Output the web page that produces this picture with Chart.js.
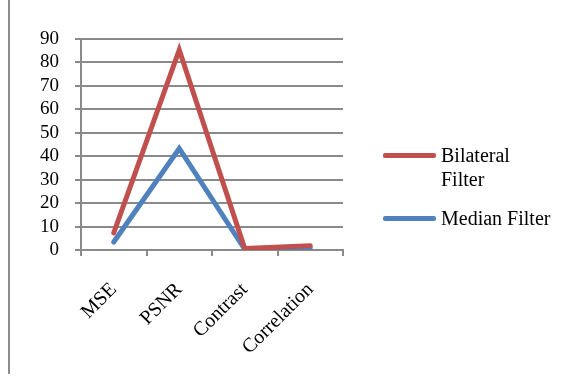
<!DOCTYPE html>
<html>
<head>
<meta charset="utf-8">
<script src="https://cdn.jsdelivr.net/npm/chart.js@4"></script>
<style>
  html, body { margin: 0; padding: 0; background: #fff; }
  #wrap { position: relative; width: 579px; height: 386px; }
  #frame { position: absolute; left: 8px; top: 0; width: 2px; height: 374px; background: #8c8c8c; }
  #legend { position: absolute; left: 383px; top: 143px; font-family: "Liberation Serif", serif; font-size: 20px; color: #000; }
  .item { display: flex; align-items: flex-start; margin-bottom: 15px; }
  .swatch { width: 53px; height: 5px; margin-top: 10px; margin-right: 5px; border-radius: 2px; }
  .label { max-width: 114px; line-height: 24px; }
</style>
</head>
<body>
<div id="wrap">
  <canvas id="lineChart" width="579" height="386"></canvas>
  <div id="frame"></div>
  <div id="legend"></div>
</div>
<script>
const categories = ['MSE', 'PSNR', 'Contrast', 'Correlation'];
const seriesNames = ['Bilateral Filter', 'Median Filter'];
const bilateral = [7.3, 85.3, 0.6, 1.8];
const median = [3.4, 43.3, 0.3, 1.0];
const colors = ['#C0504D', '#4F81BD'];
const yTicks = [0, 10, 20, 30, 40, 50, 60, 70, 80, 90];

const gridColor = '#8a8a8a';
const ctx = document.getElementById('lineChart');

const chart = new Chart(ctx, {
  type: 'line',
  data: {
    labels: categories,
    datasets: [
      { label: seriesNames[0], data: bilateral, borderColor: colors[0], backgroundColor: colors[0] },
      { label: seriesNames[1], data: median, borderColor: colors[1], backgroundColor: colors[1] }
    ]
  },
  options: {
    responsive: false,
    animation: false,
    layout: { padding: { left: 0, top: 39, right: 236, bottom: 0 } },
    elements: {
      line: { borderWidth: 5, tension: 0, borderCapStyle: 'round', borderJoinStyle: 'miter' },
      point: { radius: 0 }
    },
    scales: {
      x: {
        offset: true,
        grid: { offset: true, drawOnChartArea: false, drawTicks: true, tickLength: 6, color: gridColor, lineWidth: 2 },
        border: { color: gridColor, width: 2 },
        ticks: {
          color: '#000',
          font: { family: 'Liberation Serif', size: 20 },
          minRotation: 45, maxRotation: 45, padding: 22, autoSkip: false
        },
        afterFit: (scale) => { scale.height = 136; }
      },
      y: {
        min: 0, max: 90,
        afterBuildTicks: (scale) => { scale.ticks = yTicks.map(v => ({ value: v })); },
        grid: { color: gridColor, lineWidth: 2, tickLength: 6 },
        border: { color: gridColor, width: 2 },
        ticks: {
          color: '#000',
          font: { family: 'Liberation Serif', size: 19 },
          padding: 16, autoSkip: false
        },
        afterFit: (scale) => { scale.width = 81; }
      }
    },
    plugins: {
      legend: { display: false },
      tooltip: { enabled: false }
    }
  }
});

// legend built from the chart datasets
const legendBox = document.getElementById('legend');
chart.data.datasets.forEach(ds => {
  const item = document.createElement('div');
  item.className = 'item';
  const sw = document.createElement('div');
  sw.className = 'swatch';
  sw.style.background = ds.borderColor;
  const lb = document.createElement('div');
  lb.className = 'label';
  lb.textContent = ds.label;
  item.appendChild(sw);
  item.appendChild(lb);
  legendBox.appendChild(item);
});
</script>
</body>
</html>
